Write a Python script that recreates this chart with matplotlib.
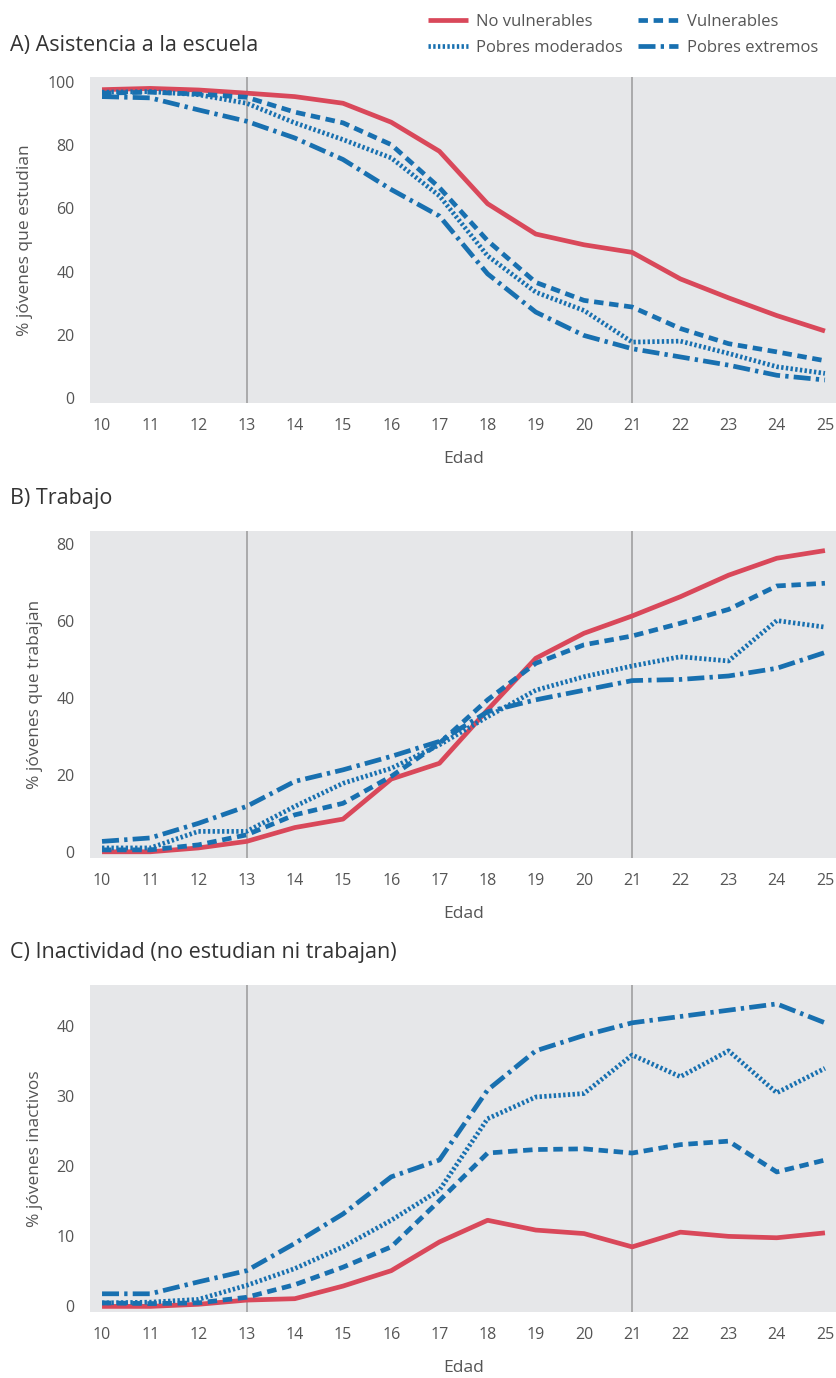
import matplotlib.pyplot as plt

# ages
edad = list(range(10, 26))

# A) asistencia a la escuela
a_no_vuln = [97.6, 98.0, 97.5, 96.5, 95.4, 93.3, 87.3, 78.1, 61.5, 51.9, 48.5, 46.1, 37.7, 31.7, 26.1, 21.2]
a_vuln = [96.5, 96.8, 96.2, 95.2, 90.5, 87.1, 80.2, 66.6, 49.8, 36.6, 30.9, 28.8, 22.0, 17.2, 14.6, 11.8]
a_mod = [96.8, 97.0, 96.0, 93.3, 87.1, 81.8, 76.0, 64.0, 45.0, 33.5, 27.7, 17.7, 18.0, 14.1, 9.9, 7.8]
a_ext = [95.4, 95.0, 91.2, 87.6, 82.3, 75.5, 66.0, 57.6, 39.3, 27.2, 19.8, 15.6, 13.0, 10.4, 7.2, 5.7]

# B) trabajo
b_no_vuln = [0.0, 0.0, 1.0, 2.7, 6.3, 8.5, 18.9, 23.0, 36.9, 50.3, 56.8, 61.3, 66.3, 71.9, 76.3, 78.3]
b_vuln = [0.5, 0.5, 1.8, 4.4, 9.6, 12.6, 19.6, 28.2, 39.5, 49.0, 53.8, 56.1, 59.4, 63.0, 69.1, 69.8]
b_mod = [1.0, 1.0, 5.3, 5.3, 11.8, 17.8, 21.7, 27.8, 35.1, 42.0, 45.5, 48.3, 50.7, 49.6, 60.1, 58.4]
b_ext = [2.7, 3.6, 7.4, 11.8, 18.3, 21.3, 24.8, 28.7, 36.4, 39.5, 42.0, 44.5, 44.8, 45.7, 47.7, 51.8]

# C) inactividad
c_no_vuln = [0.0, 0.0, 0.3, 0.9, 1.1, 2.9, 5.1, 9.2, 12.3, 10.9, 10.4, 8.5, 10.6, 10.0, 9.8, 10.5]
c_vuln = [0.5, 0.4, 0.5, 1.3, 3.1, 5.6, 8.5, 15.1, 21.9, 22.4, 22.5, 21.9, 23.1, 23.6, 19.2, 20.9]
c_mod = [0.5, 0.6, 1.0, 3.0, 5.4, 8.5, 12.3, 16.6, 26.8, 29.9, 30.4, 35.9, 32.8, 36.5, 30.5, 34.0]
c_ext = [1.8, 1.8, 3.5, 5.1, 9.0, 13.2, 18.5, 20.9, 30.9, 36.5, 38.7, 40.5, 41.4, 42.3, 43.2, 40.5]

red = '#d9485a'
blue = '#1870b0'
bg = '#e6e7e9'
txt = '#555555'

plt.rcParams['font.family'] = ['Open Sans', 'DejaVu Sans']

fig = plt.figure(figsize=(8.37, 13.78), dpi=100)

panels = [
    ('A) Asistencia a la escuela', '% jóvenes que estudian',
     [a_no_vuln, a_vuln, a_mod, a_ext], [0, 20, 40, 60, 80, 100], (-1.6, 101.6),
     [0.1075, 0.7075, 0.8925, 0.2366], 0.967),
    ('B) Trabajo', '% jóvenes que trabajan',
     [b_no_vuln, b_vuln, b_mod, b_ext], [0, 20, 40, 60, 80], (-1.6, 83.4),
     [0.1075, 0.3774, 0.8925, 0.2373], 0.638),
    ('C) Inactividad (no estudian ni trabajan)', '% jóvenes inactivos',
     [c_no_vuln, c_vuln, c_mod, c_ext], [0, 10, 20, 30, 40], (-0.8, 45.9),
     [0.1075, 0.0479, 0.8925, 0.2373], 0.309),
]

lw = 3.4
styles = [
    dict(color=red, linestyle='-', label='No vulnerables'),
    dict(color=blue, dashes=(2.0, 1.2), label='Vulnerables'),
    dict(color=blue, dashes=(0.5, 0.5), label='Pobres moderados'),
    dict(color=blue, dashes=(3.6, 1.1, 0.7, 1.1), label='Pobres extremos'),
]

handles = {}
for title, ylab, series, yt, ylim, rect, ty in panels:
    ax = fig.add_axes(rect)
    ax.set_facecolor(bg)
    for s in ax.spines.values():
        s.set_visible(False)
    ax.axvline(13, color='#9a9a9a', lw=1.1, zorder=1)
    ax.axvline(21, color='#9a9a9a', lw=1.1, zorder=1)
    for vals, st in zip(series, styles):
        ln, = ax.plot(edad, vals, lw=lw, solid_capstyle='butt',
                      dash_capstyle='butt', zorder=3, **st)
        handles[st['label']] = ln
    ax.set_xlim(9.75, 25.25)
    ax.set_ylim(*ylim)
    ax.set_xticks(edad)
    ax.set_yticks(yt)
    ax.tick_params(length=0, labelsize=11.5, colors=txt, pad=11)
    ax.set_xlabel('Edad', fontsize=12.5, color=txt, labelpad=12)
    ax.set_ylabel(ylab, fontsize=12.5, color=txt, labelpad=10)
    fig.text(0.012, ty, title, fontsize=15.5, color='#333333', va='center')

order = ['No vulnerables', 'Pobres moderados', 'Vulnerables', 'Pobres extremos']
fig.legend([handles[k] for k in order], order, ncol=2, frameon=False,
           loc='upper right', bbox_to_anchor=(0.995, 1.001), fontsize=12,
           handlelength=2.4, handletextpad=0.5, columnspacing=0.9,
           labelspacing=0.6, labelcolor=txt)

fig.savefig('out.png', dpi=100)
